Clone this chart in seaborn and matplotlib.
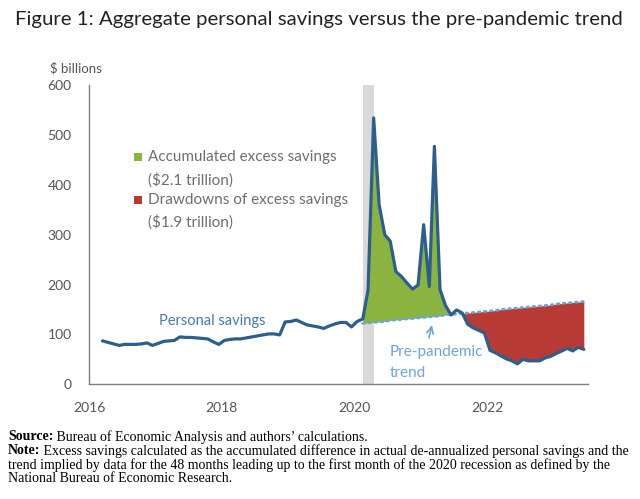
import numpy as np
import pandas as pd
import matplotlib
matplotlib.use("Agg")
import matplotlib.pyplot as plt
import matplotlib.dates as mdates
import seaborn as sns

# monthly personal savings, $ billions, Mar 2016 - Jun 2023
savings = [
    87, 84, 81, 78, 80, 80, 80, 81, 83, 78,                      # 2016 (Mar-Dec)
    82, 86, 87, 88, 95, 94, 94, 93, 92, 91, 85, 80,              # 2017
    88, 90, 91, 91, 93, 95, 97, 99, 101, 101, 99, 125,           # 2018
    126, 129, 124, 119, 117, 115, 112, 117, 121, 124, 124, 115,  # 2019
    126, 131, 189, 534, 360, 300, 287, 226, 216, 203, 191, 199,  # 2020
    320, 196, 477, 190, 158, 139, 149, 143, 120, 113, 108, 103,  # 2021
    68, 63, 57, 51, 47, 41, 50, 47, 47, 47, 53, 56,              # 2022
    62, 67, 72, 67, 74, 70,                                      # 2023 (Jan-Jun)
]
# pre-pandemic trend, Feb 2020 - Jun 2023
trend = [
    122, 123, 124, 125, 126, 128, 129, 130, 131, 132, 133,
    134, 135, 136, 137, 139, 140, 141, 142, 143, 144, 145,
    146, 147, 148, 150, 151, 152, 153, 154, 155, 156, 157,
    158, 159, 161, 162, 163, 164, 165, 166,
]
year_labels = ["2016", "", "2018", "", "2020", "", "2022", ""]
y_ticks = [0, 100, 200, 300, 400, 500, 600]

dates = pd.date_range("2016-03-01", periods=len(savings), freq="MS") + pd.Timedelta(days=14)
df = pd.DataFrame({"date": dates, "savings": savings})
tdf = pd.DataFrame({"date": dates[-len(trend):], "trend": trend})
tdf["savings"] = df["savings"].values[-len(trend):]

LINE = "#2d5f8e"
TREND = "#6fa3d8"
GREEN = "#8ab43f"
RED = "#b73a34"
GREY = "#6e6e6e"

sns.set_theme(style="white")
plt.rcParams["font.family"] = ["Lato", "DejaVu Sans"]

fig = plt.figure(figsize=(6.4, 4.99), dpi=100)
ax = fig.add_axes([89 / 640, 1 - 384.3 / 499, (588 - 89) / 640, (384.3 - 85) / 499])

# recession shading
ax.axvspan(pd.Timestamp("2020-02-15"), pd.Timestamp("2020-04-15"), color="#d9d9d9", lw=0, zorder=0)

green_mask = (tdf["savings"] >= tdf["trend"]) & (tdf["date"] <= pd.Timestamp("2021-06-30"))
red_mask = (tdf["savings"] <= tdf["trend"]) & (tdf["date"] >= pd.Timestamp("2021-08-01"))
ax.fill_between(tdf["date"], tdf["trend"], tdf["savings"], where=green_mask,
                interpolate=True, color=GREEN, lw=0, zorder=1)
ax.fill_between(tdf["date"], tdf["trend"], tdf["savings"], where=red_mask,
                interpolate=True, color=RED, lw=0, zorder=1)

sns.lineplot(data=tdf, x="date", y="trend", ax=ax, color=TREND, lw=2,
             linestyle=(0, (0.6, 1.6)), dash_capstyle="round", zorder=2)
sns.lineplot(data=df, x="date", y="savings", ax=ax, color=LINE, lw=2.3, zorder=3)

ax.set_ylim(0, 600)
ax.set_xlim(pd.Timestamp("2016-01-01"), pd.Timestamp("2023-07-08"))
ax.set_yticks(y_ticks)
ax.xaxis.set_major_locator(mdates.YearLocator())
ax.set_xticks(ax.get_xticks())
ax.set_xticklabels(year_labels)
ax.set_xlabel("")
ax.set_ylabel("")

for side in ["top", "right"]:
    ax.spines[side].set_visible(False)
for side in ["left", "bottom"]:
    ax.spines[side].set_color("#7f7f7f")
    ax.spines[side].set_linewidth(1)
ax.tick_params(axis="both", which="major", direction="out", length=3.5, width=1,
               color="#7f7f7f", labelsize=10, labelcolor="#555555")
ax.tick_params(axis="y", pad=9)
ax.tick_params(axis="x", pad=9)

# legend drawn as text
sq_x = pd.Timestamp("2016-09-28")
tx_x = pd.Timestamp("2016-11-19")
ax.scatter([sq_x], [456], marker="s", s=28, color=GREEN, lw=0, zorder=4)
ax.text(tx_x, 456, "Accumulated excess savings", color=GREY,
        fontsize=11, va="center", ha="left")
ax.text(tx_x, 410, "($2.1 trillion)", color=GREY,
        fontsize=11, va="center", ha="left")
ax.scatter([sq_x], [369], marker="s", s=28, color=RED, lw=0, zorder=4)
ax.text(tx_x, 369, "Drawdowns of excess savings", color=GREY,
        fontsize=11, va="center", ha="left")
ax.text(tx_x, 326, "($1.9 trillion)", color=GREY,
        fontsize=11, va="center", ha="left")

ax.text(pd.Timestamp("2017-01-20"), 127, "Personal savings", color="#4a78aa",
        fontsize=10.5, va="center", ha="left")
ax.text(pd.Timestamp("2020-07-10"), 65, "Pre-pandemic", color=TREND,
        fontsize=11, va="center", ha="left")
ax.text(pd.Timestamp("2020-07-10"), 22, "trend", color=TREND,
        fontsize=11, va="center", ha="left")
ax.annotate("", xy=(pd.Timestamp("2021-03-05"), 124), xytext=(pd.Timestamp("2021-02-10"), 88),
            arrowprops=dict(arrowstyle="->", color=TREND, lw=1.2))

fig.text(15 / 640, 1 - 20 / 499, "Figure 1: Aggregate personal savings versus the pre-pandemic trend",
         fontsize=14.7, color="#222222", ha="left", va="center")
fig.text(50 / 640, 1 - 68 / 499, "$ billions", fontsize=9.5, color="#555555", ha="left", va="center")

serif = ["Liberation Serif", "DejaVu Serif"]
foot = [
    (437, "Source:", " Bureau of Economic Analysis and authors\u2019 calculations."),
    (451, "Note:", " Excess savings calculated as the accumulated difference in actual de-annualized personal savings and the"),
    (465, "", "trend implied by data for the 48 months leading up to the first month of the 2020 recession as defined by the"),
    (479, "", "National Bureau of Economic Research."),
]
renderer = fig.canvas.get_renderer()
for ypix, bold, rest in foot:
    x0 = 8 / 640
    if bold:
        t = fig.text(x0, 1 - ypix / 499, bold, family=serif, fontweight="bold",
                     fontsize=10, color="black", ha="left", va="center")
        bb = t.get_window_extent(renderer=renderer)
        x0 = bb.x1 / fig.bbox.width
    fig.text(x0, 1 - ypix / 499, rest, family=serif, fontsize=10, color="black",
             ha="left", va="center")

fig.savefig("out.png", dpi=100)
